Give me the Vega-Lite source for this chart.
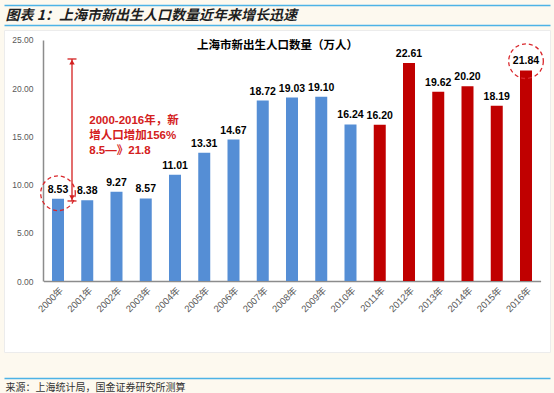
{
  "$schema": "https://vega.github.io/schema/vega-lite/v6.json",
  "autosize": {"type": "none"},
  "width": 546,
  "height": 322,
  "padding": {"left": 4, "top": 30, "right": 4, "bottom": 41},
  "background": "#FDF9EF",
  "config": {
    "view": {"fill": "#FFFFFF", "stroke": "#ECECEC", "strokeWidth": 1},
    "axis": {"grid": false, "ticks": false, "labelFont": "Liberation Sans, Noto Sans CJK SC", "titleFont": "Noto Sans CJK SC"}
  },
  "datasets": {
    "births": [
      {"year": "2000年", "births": 8.53, "phase": "2000-2010"},
      {"year": "2001年", "births": 8.38, "phase": "2000-2010"},
      {"year": "2002年", "births": 9.27, "phase": "2000-2010"},
      {"year": "2003年", "births": 8.57, "phase": "2000-2010"},
      {"year": "2004年", "births": 11.01, "phase": "2000-2010"},
      {"year": "2005年", "births": 13.31, "phase": "2000-2010"},
      {"year": "2006年", "births": 14.67, "phase": "2000-2010"},
      {"year": "2007年", "births": 18.72, "phase": "2000-2010"},
      {"year": "2008年", "births": 19.03, "phase": "2000-2010"},
      {"year": "2009年", "births": 19.10, "phase": "2000-2010"},
      {"year": "2010年", "births": 16.24, "phase": "2000-2010"},
      {"year": "2011年", "births": 16.20, "phase": "2011-2016"},
      {"year": "2012年", "births": 22.61, "phase": "2011-2016"},
      {"year": "2013年", "births": 19.62, "phase": "2011-2016"},
      {"year": "2014年", "births": 20.20, "phase": "2011-2016"},
      {"year": "2015年", "births": 18.19, "phase": "2011-2016"},
      {"year": "2016年", "births": 21.84, "phase": "2011-2016"}
    ],
    "arrow": [{"year": "2000年", "from": 8.3, "to": 23.03}],
    "caps": [{"year": "2000年", "v": 23.03}, {"year": "2000年", "v": 8.3}],
    "heads": [{"year": "2000年", "v": 22.7, "dir": "up"}, {"year": "2000年", "v": 8.65, "dir": "down"}],
    "circles": [{"year": "2000年", "v": 9.1}, {"year": "2016年", "v": 22.8}],
    "note": [{"year": "2001年", "v": 16.6, "text": "2000-2016年，新\n增人口增加156%\n8.5—》21.8"}]
  },
  "resolve": {"axis": {"x": "independent", "y": "independent"}},
  "layer": [
    {
      "data": {"name": "births"},
      "mark": {"type": "bar", "width": 12},
      "encoding": {
        "x": {
          "field": "year", "type": "ordinal",
          "scale": {"type": "band", "paddingInner": 0.3333, "paddingOuter": 1, "align": 0.7564},
          "axis": {"orient": "bottom", "offset": -71, "title": null, "labelAngle": -45, "labelFontSize": 9.5, "labelColor": "#595959", "labelPadding": 4, "domainColor": "#8C8C8C", "domainWidth": 1.5, "domainDash": [0, 39.4, 497.2, 30]}
        },
        "y": {
          "field": "births", "type": "quantitative",
          "scale": {"domain": [-7.365, 26.037], "nice": false, "zero": false},
          "axis": {"orient": "left", "offset": -39, "values": [0, 5, 10, 15, 20, 25], "format": ".2f", "title": null, "labelFontSize": 8.5, "labelColor": "#595959", "labelPadding": 10, "domainColor": "#8C8C8C", "domainWidth": 1.5, "domainDash": [0, 71, 241, 30]}
        },
        "color": {"field": "phase", "type": "nominal", "scale": {"domain": ["2000-2010", "2011-2016"], "range": ["#558ED5", "#C00000"]}, "legend": null}
      }
    },
    {
      "data": {"name": "births"},
      "mark": {"type": "text", "baseline": "alphabetic", "dy": -6, "fontWeight": "bold", "fontSize": 10.5, "font": "Liberation Sans", "color": "#000000"},
      "encoding": {
        "x": {
          "field": "year", "type": "ordinal", "scale": {"type": "band"},
          "axis": {"orient": "top", "offset": 5, "labels": false, "domainColor": "#4DB3E6", "domainWidth": 1.5, "title": "图表 1：上海市新出生人口数量近年来增长迅速", "titleX": 1, "titleY": -10, "titleAlign": "left", "titleBaseline": "middle", "titleFontSize": 14, "titleFontStyle": "italic", "titleFontWeight": "bold", "titleColor": "#1F1F1F"}
        },
        "y": {"field": "births", "type": "quantitative", "axis": null},
        "text": {"field": "births", "type": "quantitative", "format": ".2f"}
      }
    },
    {
      "data": {"name": "circles"},
      "mark": {"type": "point", "filled": false, "shape": "circle", "size": 1200, "stroke": "#D9262B", "strokeWidth": 1.3, "strokeDash": [4, 3], "opacity": 1},
      "encoding": {
        "x": {"field": "year", "type": "ordinal", "scale": {"type": "band"},
          "axis": {"orient": "top", "offset": 25, "labels": false, "domainColor": "#4DB3E6", "domainWidth": 1.5, "title": null}},
        "y": {"field": "v", "type": "quantitative", "axis": null}
      }
    },
    {
      "data": {"name": "note"},
      "mark": {"type": "text", "align": "left", "baseline": "middle", "lineBreak": "\n", "lineHeight": 15, "dx": 2, "fontWeight": "bold", "fontSize": 11.5, "font": "Liberation Sans, Noto Sans CJK SC", "color": "#D42020"},
      "encoding": {
        "x": {"field": "year", "type": "ordinal", "scale": {"type": "band"},
          "axis": {"orient": "bottom", "offset": 26, "labels": false, "domainColor": "#4DB3E6", "domainWidth": 1.5, "title": "来源：上海统计局，国金证券研究所测算", "titleX": 1, "titleY": 9, "titleAlign": "left", "titleBaseline": "middle", "titleFontSize": 10, "titleFontWeight": "normal", "titleColor": "#333333"}},
        "y": {"field": "v", "type": "quantitative", "axis": null},
        "text": {"field": "text", "type": "nominal"}
      }
    },
    {
      "data": {"name": "arrow"},
      "mark": {"type": "rule", "color": "#D42020", "strokeWidth": 1.3, "xOffset": 14},
      "encoding": {
        "x": {"field": "year", "type": "ordinal", "scale": {"type": "band"},
          "axis": {"orient": "top", "offset": 0, "labels": false, "domain": false, "title": "上海市新出生人口数量（万人）", "titleX": 273, "titleY": 15, "titleAlign": "center", "titleBaseline": "middle", "titleFontSize": 11.5, "titleFontWeight": "bold", "titleColor": "#000000"}},
        "y": {"field": "from", "type": "quantitative", "axis": null},
        "y2": {"field": "to"}
      }
    },
    {
      "data": {"name": "caps"},
      "mark": {"type": "tick", "color": "#D42020", "size": 9, "thickness": 1.3, "xOffset": 14, "opacity": 1},
      "encoding": {
        "x": {"field": "year", "type": "ordinal", "scale": {"type": "band"}, "axis": null},
        "y": {"field": "v", "type": "quantitative", "axis": null}
      }
    },
    {
      "data": {"name": "heads"},
      "mark": {"type": "point", "filled": true, "size": 30, "color": "#D42020", "xOffset": 14, "opacity": 1},
      "encoding": {
        "x": {"field": "year", "type": "ordinal", "scale": {"type": "band"}, "axis": null},
        "y": {"field": "v", "type": "quantitative", "axis": null},
        "shape": {"field": "dir", "type": "nominal", "scale": {"domain": ["up", "down"], "range": ["triangle-up", "triangle-down"]}, "legend": null}
      }
    }
  ]
}
